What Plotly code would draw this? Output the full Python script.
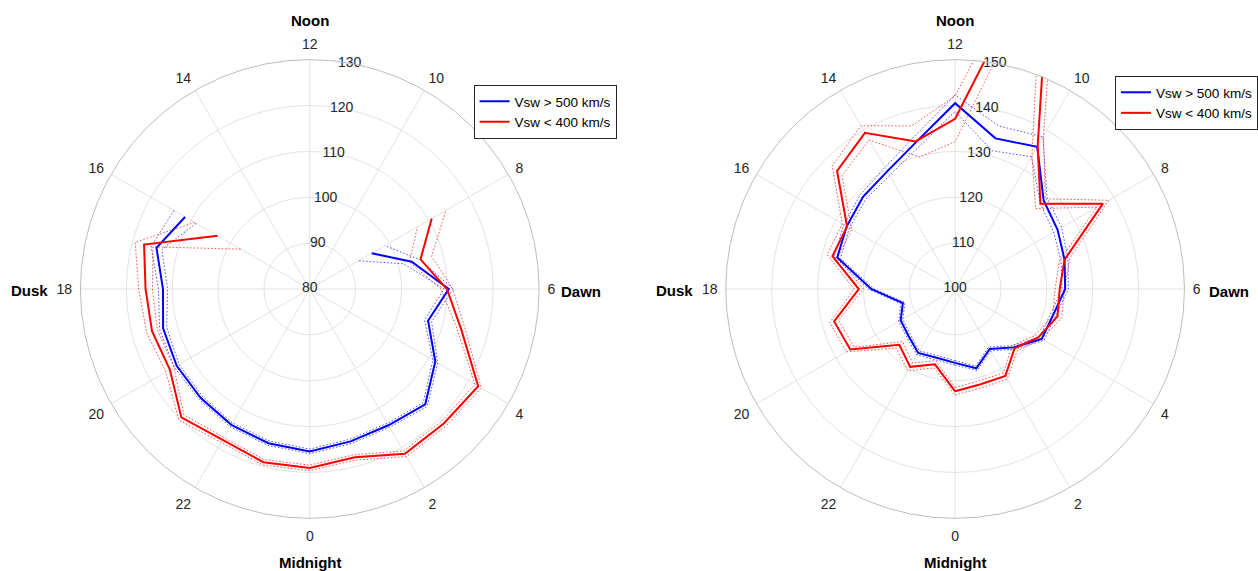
import plotly.graph_objects as go

# ---------------- data ----------------
# Left panel: MLT hours with data (gap on the noon side)
LEFT_HOURS = [16, 17, 18, 19, 20, 21, 22, 23, 0, 1, 2, 3, 4, 5, 6, 7, 8]
LEFT_FAST = [111.4, 114.6, 112.0, 113.1, 113.5, 113.6, 114.2, 114.8, 115.4,
             114.4, 114.3, 115.6, 111.6, 106.7, 110.3, 103.0, 95.6]
LEFT_FAST_ERR = [2.8, 1.2, 1.0, 0.8, 0.6, 0.5, 0.5, 0.5, 0.5,
                 0.5, 0.5, 0.6, 0.6, 0.8, 1.0, 1.8, 3.3]
LEFT_SLOW = [103.2, 117.4, 115.8, 115.6, 115.2, 119.6, 118.0, 119.1, 119.0,
             118.0, 121.5, 121.4, 122.4, 114.2, 109.9, 105.0, 110.7]
LEFT_SLOW_ERR = [5.8, 2.0, 1.5, 1.2, 1.0, 0.8, 0.6, 0.6, 0.6,
                 0.6, 0.7, 0.7, 0.8, 1.0, 1.3, 2.5, 3.6]

# Right panel: all 24 MLT hours
RIGHT_HOURS = list(range(24))
RIGHT_FAST = [116.1, 117.9, 115.1, 118.0, 121.8, 122.1, 124.0, 124.7, 125.8,
              127.3, 135.8, 134.0, 140.5, 133.1, 129.6, 128.4, 127.3, 126.6,
              118.3, 111.8, 113.7, 114.4, 116.1, 115.5]
RIGHT_FAST_ERR = [0.5, 0.5, 0.5, 0.5, 0.6, 0.6, 0.7, 0.8, 1.0,
                  1.0, 2.5, 2.8, 1.8, 1.3, 1.0, 0.8, 0.7, 0.7,
                  0.6, 0.5, 0.5, 0.5, 0.5, 0.5]
RIGHT_SLOW = [122.3, 121.5, 121.9, 118.3, 121.0, 123.1, 122.8, 124.7, 137.2,
              126.3, 136.0, 181.0, 137.1, 133.3, 139.3, 136.4, 127.2, 127.7,
              121.0, 127.3, 126.4, 117.2, 119.6, 117.0]
RIGHT_SLOW_ERR = [0.8, 0.8, 0.8, 0.8, 0.8, 1.0, 1.0, 1.2, 1.5,
                  1.5, 2.5, 8.0, 5.0, 3.5, 1.8, 1.5, 1.2, 1.2,
                  1.0, 1.0, 1.0, 1.0, 1.0, 0.8]

MLT_TICKS = [0, 2, 4, 6, 8, 10, 12, 14, 16, 18, 20, 22]
LEFT_RTICKS = [80, 90, 100, 110, 120, 130]
RIGHT_RTICKS = [100, 110, 120, 130, 140, 150]

FAST_NAME = "Vsw > 500 km/s"
SLOW_NAME = "Vsw < 400 km/s"
BLUE = "#0000ff"
RED = "#ff0000"
FONT = "Liberation Sans, Arial, Helvetica, sans-serif"
GRID = "#e2e2e2"
TXT = "#262626"

fig = go.Figure()


def to_theta(hours):
    return [h * 15 for h in hours]


def add_panel(hours, fast, fast_err, slow, slow_err, subplot, legend, closed):
    if closed:
        hours = hours + hours[:1]
        fast = fast + fast[:1]
        fast_err = fast_err + fast_err[:1]
        slow = slow + slow[:1]
        slow_err = slow_err + slow_err[:1]
    th = to_theta(hours)
    for vals, errs, col in [(fast, fast_err, BLUE), (slow, slow_err, RED)]:
        for sign in (1, -1):
            fig.add_trace(go.Scatterpolar(
                r=[v + sign * e for v, e in zip(vals, errs)], theta=th,
                mode="lines", line=dict(color=col, width=1, dash="1.5px,2px"),
                opacity=0.7, showlegend=False, hoverinfo="skip",
                subplot=subplot))
    for vals, col, name in [(fast, BLUE, FAST_NAME), (slow, RED, SLOW_NAME)]:
        fig.add_trace(go.Scatterpolar(
            r=vals, theta=th, mode="lines", name=name,
            line=dict(color=col, width=2), subplot=subplot, legend=legend))


def add_rlabels(rticks, subplot):
    fig.add_trace(go.Scatterpolar(
        r=rticks, theta=[170] * len(rticks), mode="text",
        text=[str(t) for t in rticks], textposition="middle center",
        textfont=dict(family=FONT, size=14, color=TXT),
        cliponaxis=False, showlegend=False, hoverinfo="skip",
        subplot=subplot))


add_panel(LEFT_HOURS, LEFT_FAST, LEFT_FAST_ERR, LEFT_SLOW, LEFT_SLOW_ERR,
          "polar", "legend", closed=False)
add_rlabels(LEFT_RTICKS, "polar")
add_panel(RIGHT_HOURS, RIGHT_FAST, RIGHT_FAST_ERR, RIGHT_SLOW, RIGHT_SLOW_ERR,
          "polar2", "legend2", closed=True)
add_rlabels(RIGHT_RTICKS, "polar2")

W, H = 1258, 571
R = 231
CY = 289


def polar_cfg(cx, rrange, rticks):
    return dict(
        domain=dict(x=[(cx - R) / W, (cx + R) / W],
                    y=[(H - CY - R) / H, (H - CY + R) / H]),
        bgcolor="white",
        angularaxis=dict(
            rotation=-90, direction="counterclockwise", thetaunit="degrees",
            tickmode="array", tickvals=to_theta(MLT_TICKS),
            ticktext=[str(h) for h in MLT_TICKS],
            showline=True, linecolor="#bdbdbd", linewidth=1,
            gridcolor=GRID, gridwidth=1,
            ticks="outside", ticklen=5, tickcolor="rgba(0,0,0,0)",
            tickfont=dict(family=FONT, size=14, color=TXT)),
        radialaxis=dict(
            range=rrange, tickmode="array", tickvals=rticks,
            showticklabels=False, ticks="", showline=False,
            gridcolor=GRID, gridwidth=1, angle=80),
    )


legend_style = dict(xanchor="left", yanchor="top", bgcolor="white",
                    bordercolor=TXT, borderwidth=1, tracegroupgap=0,
                    itemwidth=30,
                    font=dict(family=FONT, size=13.5, color="black"))

annos = []
for cx, dusk_x, dawn_x in [(312, 30, 585), (962, 679, 1238)]:
    for txt, x, y in [("Noon", cx, 20), ("Midnight", cx, 562),
                      ("Dusk", dusk_x, 290), ("Dawn", dawn_x, 291)]:
        annos.append(dict(text="<b>" + txt + "</b>", x=x / W, y=1 - y / H,
                          xref="paper", yref="paper", showarrow=False,
                          xanchor="center", yanchor="middle",
                          font=dict(family=FONT, size=15, color="black")))

fig.update_layout(
    autosize=True, margin=dict(l=0, r=0, t=0, b=0),
    paper_bgcolor="white", plot_bgcolor="white",
    polar=polar_cfg(312, [80, 130], LEFT_RTICKS),
    polar2=polar_cfg(962, [100, 150], RIGHT_RTICKS),
    legend=dict(x=477 / W, y=1 - 85 / H, **legend_style),
    legend2=dict(x=1123 / W, y=1 - 76 / H, **legend_style),
    annotations=annos,
    showlegend=True,
)

fig.write_html(
    "out.html",
    config={"displayModeBar": False, "responsive": True},
    default_width="100vw", default_height="100vh",
    post_script=("document.documentElement.style.margin='0';"
                 "document.body.style.margin='0';"
                 "document.documentElement.style.overflow='hidden';"
                 "document.body.style.overflow='hidden';"
                 "Plotly.Plots.resize(document.getElementById('{plot_id}'));"),
)
